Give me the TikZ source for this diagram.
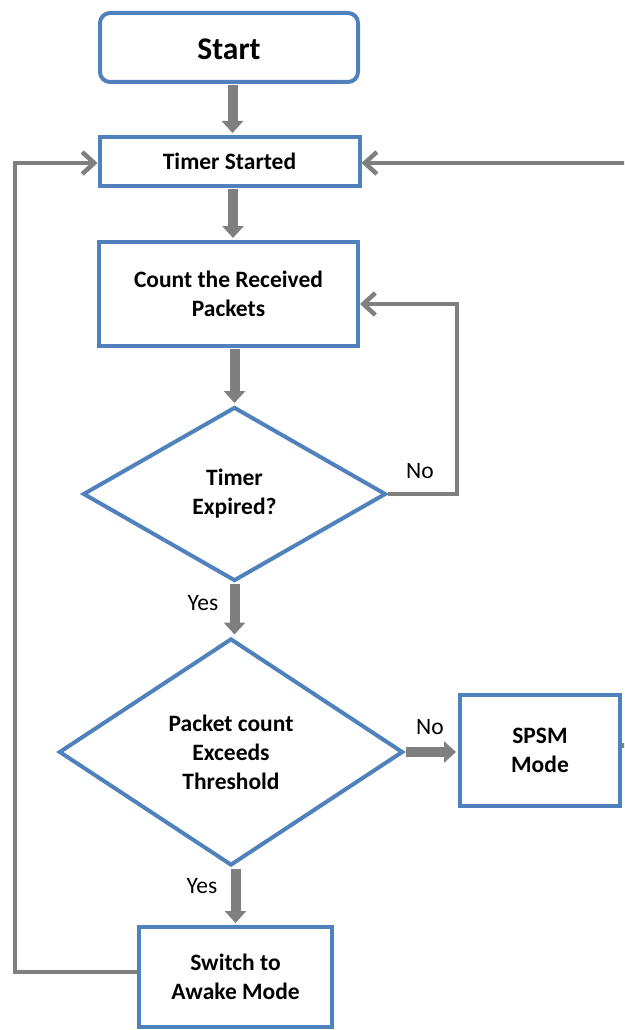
\documentclass[tikz,border=0pt]{standalone}
\usepackage{fontspec}
\setmainfont{Carlito}
\usetikzlibrary{arrows.meta,shapes.geometric,calc}
\definecolor{boxblue}{HTML}{4F81BD}
\definecolor{flowgray}{HTML}{7F7F7F}
\begin{document}
\begin{tikzpicture}[x=1pt,y=-1pt,
  bodyfont/.style={font=\fontsize{23.5}{29}\selectfont\bfseries},
  procbox/.style={draw=boxblue,line width=4pt,fill=white,rectangle,inner sep=0pt,
    align=center,bodyfont},
  startbox/.style={procbox,rounded corners=10pt,font=\fontsize{31.5}{36}\selectfont\bfseries},
  decision/.style={draw=boxblue,line width=4pt,fill=white,diamond,inner sep=0pt,
    align=center,bodyfont},
  % raises the first text line to a fixed height, which lowers the text block
  firstline/.style={execute at begin node={\rule{0pt}{#1}}},
  blockarrow/.style={draw=flowgray,line width=10pt,
    -{Triangle[length=12pt,width=21pt]},shorten <=1pt,shorten >=2pt},
  looparrow/.style={draw=flowgray,line width=4.5pt,
    -{Straight Barb[length=12pt,width=22pt]}},
  lbl/.style={font=\fontsize{23.5}{29}\selectfont,inner sep=0pt}]
\useasboundingbox (0,0) rectangle (624,1030);
\clip (0,0) rectangle (624,1030);

% process boxes and decisions
\node[startbox,firstline=25pt,minimum width=258pt,minimum height=69pt] (start) at (229,47.5) {Start};
\node[procbox,minimum width=260pt,minimum height=49pt] (timer) at (229.5,161.5) {Timer Started};
\node[procbox,firstline=21.6pt,minimum width=259pt,minimum height=104pt] (count) at (228.5,294) {Count the Received\\Packets};
\node[decision,firstline=23pt,minimum width=303pt,minimum height=174pt] (expired) at (234.5,494) {Timer\\Expired?};
\node[decision,minimum width=344pt,minimum height=227pt] (threshold) at (231,752) {Packet count\\Exceeds\\Threshold};
\node[procbox,minimum width=160pt,minimum height=111pt] (spsm) at (540,750.5) {SPSM\\Mode};
\node[procbox,firstline=22.8pt,minimum width=193pt,minimum height=100pt] (awake) at (235.5,977) {Switch to\\Awake Mode};

% rails for the return paths
\coordinate (leftrail) at (15,0);
\coordinate (rightrail) at (660,0);
\coordinate (noloop) at ($(expired.east)+(69,0)$);

% main flow
\draw[blockarrow] ([xshift=3.5pt]start.south) -- ([xshift=3.5pt]start.south |- timer.north);
\draw[blockarrow] ([xshift=3.5pt]timer.south) -- ([xshift=3.5pt]timer.south |- count.north);
\draw[blockarrow] (expired.north |- count.south) -- (expired.north);
\draw[blockarrow] (expired.south) -- (expired.south |- threshold.north);
\draw[blockarrow] (threshold.east) -- (threshold.east -| spsm.west);
\draw[blockarrow] (awake.north |- threshold.south) -- (awake.north);

% return paths
\draw[looparrow] (expired.east) -- (noloop) |- ([yshift=-10pt]count.east);
\draw[looparrow] ([yshift=5pt]awake.west) -- ([yshift=5pt]awake.west -| leftrail) |- ([yshift=-1.5pt]timer.west);
\draw[looparrow] ([yshift=5pt]spsm.east) -- ([yshift=5pt]spsm.east -| rightrail) |- ([yshift=-1.5pt]timer.east);

% branch labels
\node[lbl] (noA) at (420,471) {No};
\node[lbl] (yesA) at (203,603) {Yes};
\node[lbl] (noB) at (430,727) {No};
\node[lbl] (yesB) at (202,886) {Yes};
\end{tikzpicture}
\end{document}
